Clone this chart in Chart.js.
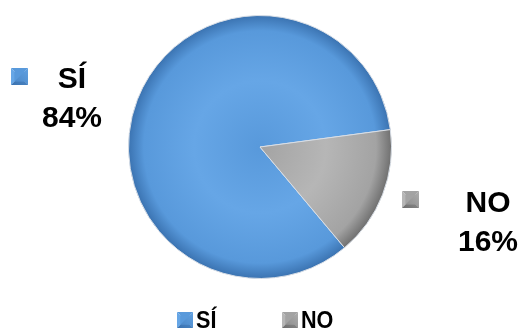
<!DOCTYPE html>
<html>
<head>
<meta charset="utf-8">
<script src="https://cdn.jsdelivr.net/npm/chart.js@4.4.1/dist/chart.umd.min.js"></script>
<style>
  html, body { margin: 0; padding: 0; background: #ffffff; }
  #wrap { width: 523px; height: 331px; position: relative; }
</style>
</head>
<body>
<div id="wrap"><canvas id="c" width="523" height="331"></canvas></div>
<script>
// Survey answers and their shares (percent)
const categories = ['SÍ', 'NO'];
const shares = [84, 16];
const percentLabels = ['84%', '16%'];

// Base tones for each slice: [light, mid, dark]
const tones = [
  ['#66a6e6', '#5899db', '#3a72b0'],
  ['#b6b6b6', '#a3a3a3', '#6e6e6e']
];

// Bevelled square used as a key marker
function bevelSquare(ctx, x, y, s, tone) {
  const cx = x + s / 2, cy = y + s / 2;
  const faces = [
    [[x, y], [x + s, y], [cx, cy], tone[1]],
    [[x + s, y], [x + s, y + s], [cx, cy], tone[1]],
    [[x, y + s], [x + s, y + s], [cx, cy], tone[2]],
    [[x, y], [x, y + s], [cx, cy], tone[0]]
  ];
  faces.forEach(f => {
    ctx.beginPath();
    ctx.moveTo(f[0][0], f[0][1]);
    ctx.lineTo(f[1][0], f[1][1]);
    ctx.lineTo(f[2][0], f[2][1]);
    ctx.closePath();
    ctx.fillStyle = f[3];
    ctx.fill();
  });
  ctx.fillStyle = tone[1];
  ctx.fillRect(x + s * 0.2, y + s * 0.2, s * 0.6, s * 0.6);
  const g = ctx.createLinearGradient(x, y + s, x + s, y);
  g.addColorStop(0, tone[2]);
  g.addColorStop(1, tone[0]);
  ctx.beginPath();
  ctx.moveTo(x, y + s);
  ctx.lineTo(x + s, y);
  ctx.lineTo(x + s, y + s);
  ctx.closePath();
  ctx.fillStyle = g;
  ctx.globalAlpha = 0.55;
  ctx.fill();
  ctx.globalAlpha = 1;
}

// Slice labels: marker + category + percent, placed beside each slice
const sliceLabels = {
  id: 'sliceLabels',
  afterDatasetsDraw(chart) {
    const ctx = chart.ctx;
    const meta = chart.getDatasetMeta(0);
    const spots = [
      { dx: -188, dy: -59, mx: -249, my: -79 },
      { dx: 228, dy: 65, mx: 142, my: 44 }
    ];
    ctx.save();
    meta.data.forEach((arc, i) => {
      const cx = arc.x, cy = arc.y;
      const sp = spots[i];
      bevelSquare(ctx, cx + sp.mx, cy + sp.my, 17, tones[i]);
      ctx.fillStyle = '#000000';
      ctx.font = 'bold 30px "Liberation Sans", Arial, sans-serif';
      ctx.textAlign = 'center';
      ctx.textBaseline = 'alphabetic';
      ctx.fillText(categories[i], cx + sp.dx, cy + sp.dy);
      ctx.fillText(percentLabels[i], cx + sp.dx, cy + sp.dy + 39);
    });
    ctx.restore();
  }
};

// Key row under the pie (slightly condensed bold text)
const keyRow = {
  id: 'keyRow',
  afterDraw(chart) {
    const ctx = chart.ctx;
    const xs = [177, 282];
    const y = 312;
    ctx.save();
    ctx.font = 'bold 24px "Liberation Sans", Arial, sans-serif';
    ctx.textBaseline = 'alphabetic';
    ctx.textAlign = 'left';
    categories.forEach((c, i) => {
      bevelSquare(ctx, xs[i], y, 16, tones[i]);
      ctx.save();
      ctx.translate(xs[i] + 19, y + 16);
      ctx.scale(0.9, 1);
      ctx.fillStyle = '#000000';
      ctx.fillText(c, 0, 0);
      ctx.restore();
    });
    ctx.restore();
  }
};

// Rim shading for a slightly domed look
function sliceFill(context) {
  const chart = context.chart;
  const area = chart.chartArea;
  if (!area) return tones[context.dataIndex][1];
  const cx = (area.left + area.right) / 2;
  const cy = (area.top + area.bottom) / 2;
  const r = Math.min(area.right - area.left, area.bottom - area.top) / 2;
  const t = tones[context.dataIndex];
  const g = chart.ctx.createRadialGradient(cx, cy, 0, cx, cy, r);
  g.addColorStop(0, t[1]);
  g.addColorStop(0.5, t[0]);
  g.addColorStop(0.88, t[1]);
  g.addColorStop(1, t[2]);
  return g;
}

new Chart(document.getElementById('c'), {
  type: 'pie',
  data: {
    labels: categories,
    datasets: [{
      data: shares,
      backgroundColor: sliceFill,
      borderColor: '#d8dee6',
      borderWidth: 1
    }]
  },
  options: {
    responsive: false,
    animation: false,
    rotation: 140,
    layout: { padding: { top: 15, bottom: 52, left: 128, right: 131 } },
    plugins: {
      legend: { display: false },
      tooltip: { enabled: false }
    }
  },
  plugins: [sliceLabels, keyRow]
});
</script>
</body>
</html>
